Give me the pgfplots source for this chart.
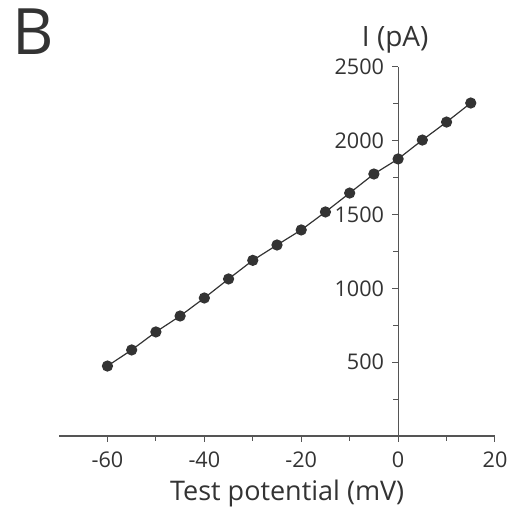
\documentclass[border=0pt]{standalone}
\usepackage{pgfplots}
\pgfplotsset{compat=1.18}
\usepackage{fontspec}
\setmainfont{Open Sans}
\definecolor{ink}{HTML}{333333}
\definecolor{axisgray}{HTML}{555555}
\begin{document}
\begin{tikzpicture}
\path[use as bounding box] (-29.5pt,-41pt) rectangle (230pt,218pt);
\begin{axis}[
  scale only axis,
  width=218pt, height=184.5pt,
  xmin=-70, xmax=20, ymin=0, ymax=2500,
  axis x line=bottom, axis y line=center,
  axis line style={-, axisgray, line width=0.6pt},
  xtick={-60,-40,-20,0,20},
  minor xtick={-50,-30,-10,10},
  ytick={500,1000,1500,2000,2500},
  minor ytick={250,750,1250,1750,2250},
  tick align=outside,
  major tick length=3pt, minor tick length=2.5pt,
  tick style={axisgray, line width=0.5pt},
  every tick label/.append style={text=ink, font=\fontsize{10.8}{13}\selectfont},
  xticklabel style={yshift=-1.5pt},
  yticklabel style={xshift=-0.5pt},
  /pgf/number format/assume math mode=true,
  /pgf/number format/1000 sep={},
  clip=false,
]
\addplot[color=ink, line width=0.6pt, mark=*, mark size=2.5pt, mark options={fill=ink, draw=ink}]
coordinates {
(-60,474) (-55,583) (-50,705) (-45,813) (-40,935) (-35,1064) (-30,1190)
(-25,1294) (-20,1396) (-15,1518) (-10,1646) (-5,1775) (0,1877)
(5,2005) (10,2127) (15,2256)
};
\node[text=ink, font=\fontsize{14}{16}\selectfont] at (axis cs:-0.6,2500) [yshift=13.5pt] {I (pA)};
\node[text=ink, font=\fontsize{13.5}{16}\selectfont] at (axis cs:-22.9,0) [yshift=-28.5pt] {Test potential (mV)};
\end{axis}
\node[text=ink, font=\fontsize{32}{36}\selectfont] at (-13pt,202pt) {B};
\end{tikzpicture}
\end{document}
